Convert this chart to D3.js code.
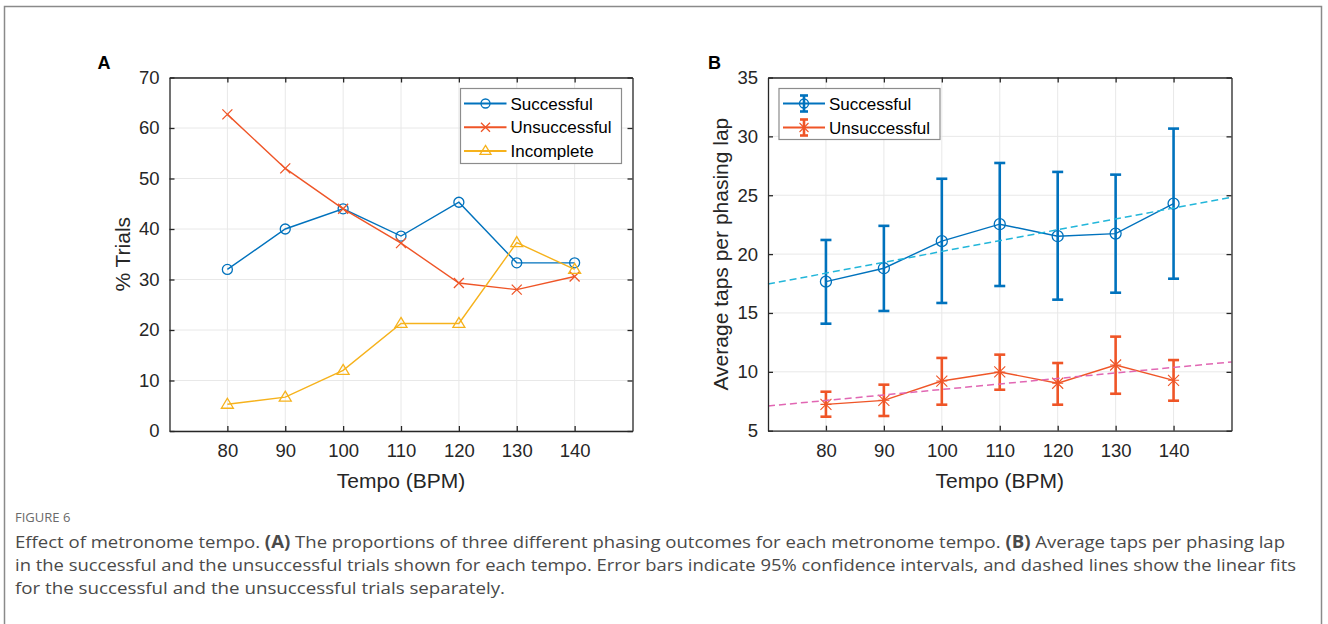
<!DOCTYPE html>
<html>
<head>
<meta charset="utf-8">
<script src="https://cdn.jsdelivr.net/npm/d3@7"></script>
<style>
  body { margin: 0; background: #fff; }
  svg text { font-family: "Liberation Sans", Arial, sans-serif; }
  .caption { font-family: "Open Sans", sans-serif !important; }
</style>
</head>
<body>
<svg id="fig" width="1328" height="624"></svg>
<script>
const tempos = [80, 90, 100, 110, 120, 130, 140];

// panel A: % trials per outcome
const successPct = [32, 40, 44, 38.6, 45.3, 33.3, 33.3];
const unsuccessPct = [62.7, 52, 44, 37.2, 29.3, 28, 30.6];
const incompletePct = [5.3, 6.7, 12, 21.3, 21.3, 37.3, 32];

// panel B: taps per lap, mean with 95% CI
const successMean = [17.66, 18.8, 21.1, 22.54, 21.52, 21.74, 24.29];
const successLow = [14.09, 15.17, 15.85, 17.29, 16.13, 16.72, 17.91];
const successHigh = [21.2, 22.4, 26.4, 27.74, 26.98, 26.75, 30.66];
const unsuccessMean = [7.24, 7.58, 9.22, 9.99, 9.03, 10.58, 9.28];
const unsuccessLow = [6.19, 6.25, 7.21, 8.48, 7.21, 8.14, 7.55];
const unsuccessHigh = [8.31, 8.91, 11.18, 11.46, 10.75, 12.99, 11.0];
// linear fits, value at tempo 70 and 150
const successFit = [17.46, 24.83];
const unsuccessFit = [7.1, 10.84];

const yTicksA = [0, 10, 20, 30, 40, 50, 60, 70];
const yTicksB = [5, 10, 15, 20, 25, 30, 35];

const BLUE = "#0072bd", RED = "#ef5527", YELLOW = "#f6b21c";
const CYAN = "#22b6da", PINK = "#e167b3";
const INK = "#262626";

const svg = d3.select("#fig");

// outer frame
svg.append("path")
  .attr("d", "M4.5,640 V6.5 H1321.5 V640")
  .attr("fill", "none").attr("stroke", "#8a8a8a").attr("stroke-width", 1.5);

function makeAxes({ left, top, width, height, yDomain, yTicks, yLabel, letter }) {
  const g = svg.append("g").attr("transform", `translate(${left},${top})`);
  const x = d3.scaleLinear().domain([70, 150]).range([0, width]);
  const y = d3.scaleLinear().domain(yDomain).range([height, 0]);

  // grid
  g.append("g").selectAll("line").data(tempos).join("line")
    .attr("x1", (d) => x(d)).attr("x2", (d) => x(d))
    .attr("y1", 0).attr("y2", height)
    .attr("stroke", "#e8e8e8").attr("stroke-width", 1);
  g.append("g").selectAll("line").data(yTicks).join("line")
    .attr("y1", (d) => y(d)).attr("y2", (d) => y(d))
    .attr("x1", 0).attr("x2", width)
    .attr("stroke", "#e8e8e8").attr("stroke-width", 1);

  const plot = g.append("g");

  // axes with inward ticks on all four sides
  const ax = [
    [d3.axisBottom(x).tickValues(tempos).tickSizeInner(-5).tickSizeOuter(0).tickPadding(13), `translate(0,${height})`],
    [d3.axisTop(x).tickValues(tempos).tickSizeInner(-5).tickSizeOuter(0).tickFormat(""), "translate(0,0)"],
    [d3.axisLeft(y).tickValues(yTicks).tickSizeInner(-5).tickSizeOuter(0).tickPadding(10), "translate(0,0)"],
    [d3.axisRight(y).tickValues(yTicks).tickSizeInner(-5).tickSizeOuter(0).tickFormat(""), `translate(${width},0)`],
  ];
  ax.forEach(([a, t]) => {
    const s = g.append("g").attr("transform", t).call(a);
    s.select(".domain").attr("stroke", INK).attr("stroke-width", 1.3);
    s.selectAll(".tick line").attr("stroke", INK).attr("stroke-width", 1.3);
    s.selectAll("text").attr("fill", INK).style("font-size", "18.5px");
  });

  g.append("text")
    .attr("x", width / 2).attr("y", height + 57)
    .attr("text-anchor", "middle").attr("fill", INK)
    .style("font-size", "21px").text("Tempo (BPM)");
  g.append("text")
    .attr("transform", `translate(-40,${height / 2}) rotate(-90)`)
    .attr("text-anchor", "middle").attr("fill", INK)
    .style("font-size", "21px").text(yLabel);
  g.append("text")
    .attr("x", letter.dx).attr("y", -9)
    .attr("fill", "#000").style("font-weight", "bold")
    .style("font-size", "18px").text(letter.text);

  return { g: plot, frame: g, x, y };
}

function marker(sel, type, color, r) {
  if (type === "circle") {
    sel.append("circle").attr("r", r).attr("fill", "none")
      .attr("stroke", color).attr("stroke-width", 1.3);
  } else if (type === "x") {
    sel.append("path").attr("d", `M${-r},${-r}L${r},${r}M${-r},${r}L${r},${-r}`)
      .attr("stroke", color).attr("stroke-width", 1.3);
  } else if (type === "tri") {
    sel.append("path").attr("d", `M0,${-r - 1}L${r + 1},${r - 1}L${-r - 1},${r - 1}Z`)
      .attr("fill", "none").attr("stroke", color).attr("stroke-width", 1.3);
  } else if (type === "star") {
    sel.append("path")
      .attr("d", `M${-r},${-r}L${r},${r}M${-r},${r}L${r},${-r}M0,${-r}V${r}M${-r},0H${r}`)
      .attr("stroke", color).attr("stroke-width", 1.1);
  }
}

// ---------- panel A ----------
const A = makeAxes({
  left: 169.5, top: 77.5, width: 463, height: 353.5,
  yDomain: [0, 70], yTicks: yTicksA, yLabel: "% Trials",
  letter: { text: "A", dx: -72 },
});

const seriesA = [
  { name: "Successful", values: successPct, color: BLUE, m: "circle" },
  { name: "Unsuccessful", values: unsuccessPct, color: RED, m: "x" },
  { name: "Incomplete", values: incompletePct, color: YELLOW, m: "tri" },
];
const lineA = d3.line().x((d, i) => A.x(tempos[i])).y((d) => A.y(d));
seriesA.forEach((s) => {
  A.g.append("path").attr("d", lineA(s.values))
    .attr("fill", "none").attr("stroke", s.color).attr("stroke-width", 1.4);
  A.g.selectAll(null).data(s.values).join("g")
    .attr("transform", (d, i) => `translate(${A.x(tempos[i])},${A.y(d)})`)
    .each(function () { marker(d3.select(this), s.m, s.color, 5); });
});

// legend A
const legA = A.frame.append("g").attr("transform", "translate(291,11)");
legA.append("rect").attr("width", 161).attr("height", 75)
  .attr("fill", "#fff").attr("stroke", "#8c8c8c").attr("stroke-width", 1.2);
seriesA.forEach((s, i) => {
  const row = legA.append("g").attr("transform", `translate(0,${15 + i * 23.7})`);
  row.append("line").attr("x1", 3.5).attr("x2", 46).attr("stroke", s.color).attr("stroke-width", 2);
  row.append("g").attr("transform", "translate(25,0)")
    .each(function () { marker(d3.select(this), s.m, s.color, 4.5); });
  row.append("text").attr("x", 50).attr("y", 6).attr("fill", "#000")
    .style("font-size", "17px").text(s.name);
});

// ---------- panel B ----------
const B = makeAxes({
  left: 768, top: 77.5, width: 463.5, height: 353.2,
  yDomain: [5, 35], yTicks: yTicksB, yLabel: "Average taps per phasing lap",
  letter: { text: "B", dx: -60 },
});

const fitLine = (vals, color) =>
  B.g.append("line")
    .attr("x1", B.x(70)).attr("y1", B.y(vals[0]))
    .attr("x2", B.x(150)).attr("y2", B.y(vals[1]))
    .attr("stroke", color).attr("stroke-width", 1.5).attr("stroke-dasharray", "7,4");

const seriesB = [
  { name: "Successful", mean: successMean, low: successLow, high: successHigh, color: BLUE, m: "circle", fit: successFit, fitColor: CYAN },
  { name: "Unsuccessful", mean: unsuccessMean, low: unsuccessLow, high: unsuccessHigh, color: RED, m: "star", fit: unsuccessFit, fitColor: PINK },
];
const lineB = d3.line().x((d, i) => B.x(tempos[i])).y((d) => B.y(d));
seriesB.forEach((s) => {
  const bars = B.g.selectAll(null).data(tempos).join("g");
  bars.append("line")
    .attr("x1", (d) => B.x(d)).attr("x2", (d) => B.x(d))
    .attr("y1", (d, i) => B.y(s.low[i])).attr("y2", (d, i) => B.y(s.high[i]))
    .attr("stroke", s.color).attr("stroke-width", 2.6);
  [s.low, s.high].forEach((arr) => {
    bars.append("line")
      .attr("x1", (d) => B.x(d) - 5.5).attr("x2", (d) => B.x(d) + 5.5)
      .attr("y1", (d, i) => B.y(arr[i])).attr("y2", (d, i) => B.y(arr[i]))
      .attr("stroke", s.color).attr("stroke-width", 2.6);
  });
  B.g.append("path").attr("d", lineB(s.mean))
    .attr("fill", "none").attr("stroke", s.color).attr("stroke-width", 1.4);
  B.g.selectAll(null).data(s.mean).join("g")
    .attr("transform", (d, i) => `translate(${B.x(tempos[i])},${B.y(d)})`)
    .each(function () { marker(d3.select(this), s.m, s.color, 5.5); });
});
seriesB.forEach((s) => fitLine(s.fit, s.fitColor));

// legend B
const legB = B.frame.append("g").attr("transform", "translate(11,11)");
legB.append("rect").attr("width", 161).attr("height", 51)
  .attr("fill", "#fff").attr("stroke", "#8c8c8c").attr("stroke-width", 1.2);
seriesB.forEach((s, i) => {
  const row = legB.append("g").attr("transform", `translate(0,${15 + i * 24})`);
  row.append("line").attr("x1", 4).attr("x2", 46).attr("stroke", s.color).attr("stroke-width", 2);
  row.append("line").attr("x1", 25).attr("x2", 25).attr("y1", -8).attr("y2", 8)
    .attr("stroke", s.color).attr("stroke-width", 2.6);
  [-8, 8].forEach((yy) => row.append("line").attr("x1", 21).attr("x2", 29)
    .attr("y1", yy).attr("y2", yy).attr("stroke", s.color).attr("stroke-width", 2.6));
  row.append("g").attr("transform", "translate(25,0)")
    .each(function () { marker(d3.select(this), s.m, s.color, 4.5); });
  row.append("text").attr("x", 50).attr("y", 6).attr("fill", "#000")
    .style("font-size", "17px").text(s.name);
});

// ---------- caption ----------
const cap = svg.append("g").attr("transform", "translate(15,0)");
cap.append("text").attr("class", "caption").attr("y", 522).attr("fill", "#6a6a6a")
  .style("font-size", "13px")
  .text("FIGURE 6");

const captionLines = [
  [["Effect of metronome tempo. ", false], ["(A)", true], [" The proportions of three different phasing outcomes for each metronome tempo. ", false], ["(B)", true], [" Average taps per phasing lap", false]],
  [["in the successful and the unsuccessful trials shown for each tempo. Error bars indicate 95% confidence intervals, and dashed lines show the linear fits", false]],
  [["for the successful and the unsuccessful trials separately.", false]],
];
const captionWidths = [1270, 1281, 490];
captionLines.forEach((parts, i) => {
  const t = cap.append("text").attr("class", "caption")
    .attr("y", 548 + i * 23).attr("fill", "#4a4a4a")
    .style("font-size", "17px")
    .attr("textLength", captionWidths[i]).attr("lengthAdjust", "spacingAndGlyphs");
  parts.forEach(([txt, bold]) => {
    t.append("tspan").style("font-weight", bold ? "bold" : "normal").text(txt);
  });
});
</script>
</body>
</html>
